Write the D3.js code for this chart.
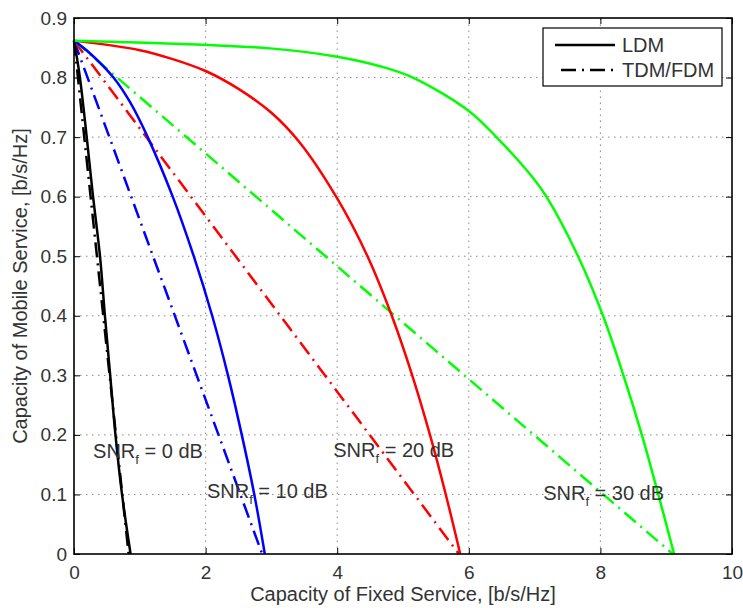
<!DOCTYPE html>
<html>
<head>
<meta charset="utf-8">
<script src="https://cdn.jsdelivr.net/npm/d3@7"></script>
<style>
  body { margin: 0; background: #fff; }
  text { font-family: "Liberation Sans", Arial, sans-serif; fill: #333; }
</style>
</head>
<body>
<div id="chart"></div>
<script>
// data
var xTicks = [0, 2, 4, 6, 8, 10];
var yTicks = [0, 0.1, 0.2, 0.3, 0.4, 0.5, 0.6, 0.7, 0.8, 0.9];
var snrNames = ["0 dB", "10 dB", "20 dB", "30 dB"];

// LDM capacity regions (fixed, mobile)
var ldm0 = [[0,0.862],[0.09,0.8],[0.29,0.6],[0.395,0.5],[0.47,0.4],[0.55,0.3],[0.63,0.2],[0.73,0.1],[0.86,0]];
var ldm10 = [[0,0.862],[0.25,0.84],[0.6,0.8],[0.85,0.759],[1.12,0.7],[1.5,0.6],[1.82,0.5],[2.1,0.4],[2.34,0.3],[2.55,0.2],[2.74,0.1],[2.9,0]];
var ldm20 = [[0,0.862],[1.0,0.846],[1.5,0.831],[2.0,0.811],[2.5,0.781],[3.0,0.741],[3.43,0.691],[4.0,0.597],[4.46,0.5],[4.83,0.4],[5.14,0.3],[5.41,0.2],[5.65,0.1],[5.87,0]];
var ldm30 = [[0,0.862],[1.96,0.855],[2.98,0.849],[4.0,0.835],[4.65,0.819],[5.15,0.8],[6.0,0.744],[6.42,0.7],[6.98,0.631],[7.18,0.6],[7.66,0.5],[8.04,0.4],[8.35,0.3],[8.63,0.2],[8.88,0.1],[9.12,0]];

// TDM/FDM straight lines
var tdm0 = [[0,0.862],[0.83,0]];
var tdm10 = [[0,0.862],[2.86,0]];
var tdm20 = [[0,0.862],[5.85,0]];
var tdm30 = [[0,0.862],[9.1,0]];

// where the SNR labels sit (data units, left / middle)
var labelX = [0.29, 2.02, 3.94, 7.13];
var labelY = [0.173, 0.105, 0.174, 0.103];

var colors = ["#000000", "#0000ff", "#ff0000", "#00ff00"];

function main() {
  var W = 743, H = 608;
  var left = 74, right = 732, top = 18, bottom = 554;

  var svg = d3.select("#chart").append("svg")
      .attr("width", W)
      .attr("height", H);

  var x = d3.scaleLinear().domain([0, 10]).range([left, right]);
  var y = d3.scaleLinear().domain([0, 0.9]).range([bottom, top]);

  // dotted grid
  var grid = svg.append("g").attr("stroke", "#8a8a8a").attr("stroke-width", 1)
      .attr("stroke-dasharray", "1.5,4.5");
  grid.selectAll(".gx").data(xTicks.slice(1, -1)).enter().append("line")
      .attr("x1", function(d) { return x(d); }).attr("x2", function(d) { return x(d); })
      .attr("y1", bottom).attr("y2", top);
  grid.selectAll(".gy").data(yTicks.slice(1, -1)).enter().append("line")
      .attr("y1", function(d) { return y(d); }).attr("y2", function(d) { return y(d); })
      .attr("x1", left).attr("x2", right);

  // axes with inward ticks, MATLAB style
  function styleAxis(g) {
    g.select(".domain").remove();
    g.selectAll(".tick line").attr("stroke", "#000").attr("stroke-width", 1);
    g.selectAll("text").attr("font-size", "19px").attr("fill", "#333")
      .attr("font-family", "Liberation Sans, Arial, sans-serif");
  }
  svg.append("g").attr("transform", "translate(0," + bottom + ")")
      .call(d3.axisBottom(x).tickValues(xTicks).tickSize(-6).tickPadding(12)
        .tickFormat(d3.format("d")))
      .call(styleAxis);
  svg.append("g").attr("transform", "translate(0," + top + ")")
      .call(d3.axisTop(x).tickValues(xTicks).tickSize(-6).tickFormat(""))
      .call(styleAxis);
  svg.append("g").attr("transform", "translate(" + left + ",0)")
      .call(d3.axisLeft(y).tickValues(yTicks).tickSize(-6).tickPadding(7)
        .tickFormat(function(d) { return d === 0 ? "0" : d3.format(".1f")(d); }))
      .call(styleAxis);
  svg.append("g").attr("transform", "translate(" + right + ",0)")
      .call(d3.axisRight(y).tickValues(yTicks).tickSize(-6).tickFormat(""))
      .call(styleAxis);

  // curves
  var line = d3.line()
      .x(function(d) { return x(d[0]); })
      .y(function(d) { return y(d[1]); })
      .curve(d3.curveCatmullRom.alpha(0.5));

  var ldm = [ldm0, ldm10, ldm20, ldm30];
  var tdm = [tdm0, tdm10, tdm20, tdm30];
  var plot = svg.append("g");

  tdm.forEach(function(s, i) {
    plot.append("path").datum(s)
      .attr("d", line)
      .attr("fill", "none")
      .attr("stroke", colors[i])
      .attr("stroke-width", 2.5)
      .attr("stroke-dasharray", "15,6,2,6");
  });
  ldm.forEach(function(s, i) {
    plot.append("path").datum(s)
      .attr("d", line)
      .attr("fill", "none")
      .attr("stroke", colors[i])
      .attr("stroke-width", 2.5);
  });

  // frame
  svg.append("rect")
      .attr("x", left).attr("y", top)
      .attr("width", right - left).attr("height", bottom - top)
      .attr("fill", "none").attr("stroke", "#000").attr("stroke-width", 1.6);

  // SNR labels
  snrNames.forEach(function(name, i) {
    var t = svg.append("text")
        .attr("x", x(labelX[i]))
        .attr("y", y(labelY[i]) + 7)
        .attr("font-size", "20px");
    t.append("tspan").text("SNR");
    t.append("tspan").text("f").attr("font-size", "13px").attr("dy", 6);
    t.append("tspan").text(" = " + name).attr("font-size", "20px").attr("dy", -6);
  });

  // axis titles
  svg.append("text")
      .attr("x", (left + right) / 2)
      .attr("y", 601)
      .attr("text-anchor", "middle")
      .attr("font-size", "20px")
      .text("Capacity of Fixed Service, [b/s/Hz]");

  svg.append("text")
      .attr("transform", "translate(27," + (top + bottom) / 2 + ") rotate(-90)")
      .attr("text-anchor", "middle")
      .attr("font-size", "20px")
      .text("Capacity of Mobile Service, [b/s/Hz]");

  // legend
  var lg = svg.append("g");
  lg.append("rect")
      .attr("x", 543).attr("y", 28).attr("width", 179).attr("height", 58)
      .attr("fill", "#fff").attr("stroke", "#000").attr("stroke-width", 1.2);
  var items = [["LDM", null], ["TDM/FDM", "15,6,2,6"]];
  items.forEach(function(it, i) {
    var yy = 45 + i * 25;
    lg.append("line")
        .attr("x1", 555).attr("x2", 615).attr("y1", yy).attr("y2", yy)
        .attr("stroke", "#000").attr("stroke-width", 2.5)
        .attr("stroke-dasharray", it[1])
        .attr("stroke-dashoffset", it[1] ? 23 : null);
    lg.append("text")
        .attr("x", 622).attr("y", yy).attr("dy", "0.35em")
        .attr("font-size", "20px")
        .text(it[0]);
  });
}

main();
</script>
</body>
</html>
